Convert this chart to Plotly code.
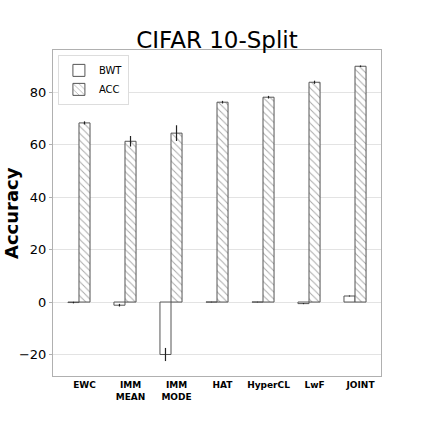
import plotly.graph_objects as go

methods = ["EWC", "IMM<br>MEAN", "IMM<br>MODE", "HAT", "HyperCL", "LwF", "JOINT"]
positions = [0, 1, 2, 3, 4, 5, 6]
bwt = [-0.2, -1.2, -20.0, 0.0, 0.0, -0.6, 2.3]
bwt_err = [0.3, 0.5, 2.5, 0.1, 0.1, 0.2, 0.2]
acc = [68.3, 61.3, 64.4, 76.2, 78.1, 83.8, 89.9]
acc_err = [0.6, 2.0, 3.0, 0.5, 0.5, 0.6, 0.3]

yticks = [-20, 0, 20, 40, 60, 80]

edge = "#555555"
err_style = dict(type="data", thickness=1.2, width=0, color="#222222")

fig = go.Figure()
fig.add_trace(go.Bar(
    x=positions, y=bwt, name="BWT", width=0.24, offset=-0.36,
    marker=dict(color="white", line=dict(color=edge, width=1)),
    error_y=dict(array=bwt_err, **err_style),
))
fig.add_trace(go.Bar(
    x=positions, y=acc, name="ACC", width=0.24, offset=-0.12,
    marker=dict(color="white", line=dict(color=edge, width=1),
                pattern=dict(shape="\\", size=5, solidity=0.2, fgcolor="#555555", bgcolor="white")),
    error_y=dict(array=acc_err, **err_style),
))

fig.update_layout(
    width=423, height=423,
    margin=dict(l=53, r=42, t=50, b=47),
    paper_bgcolor="white", plot_bgcolor="white",
    font=dict(family="DejaVu Sans", color="black"),
    title=dict(text="CIFAR 10-Split", x=0.513, xanchor="center", y=1 - 40 / 423,
               yanchor="middle", font=dict(size=23, family="DejaVu Sans", color="black")),
    showlegend=True,
    legend=dict(x=0.015, y=0.985, xanchor="left", yanchor="top",
                bgcolor="white", bordercolor="#dddddd", borderwidth=1,
                font=dict(size=10, family="DejaVu Sans", color="black"), itemwidth=30,
                tracegroupgap=0),
    barmode="overlay",
    xaxis=dict(range=[-0.685, 6.445], tickvals=positions, ticktext=methods,
               tickfont=dict(size=9, family="DejaVu Sans", weight="bold"),
               showgrid=False, zeroline=False, showline=True, linecolor="#b0b0b0",
               linewidth=1, mirror=True, ticks=""),
    yaxis=dict(range=[-28.2, 96.1], tickvals=yticks,
               ticktext=["−20", "0", "20", "40", "60", "80"],
               tickfont=dict(size=13, family="DejaVu Sans"),
               showgrid=True, gridcolor="#e3e3e3", gridwidth=1,
               zeroline=False, showline=True, linecolor="#b0b0b0",
               linewidth=1, mirror=True, ticks="outside", ticklen=3,
               tickcolor="#b0b0b0"),
    annotations=[dict(text="<b>Accuracy</b>", textangle=-90, xref="paper", yref="paper",
                      x=-0.128, y=0.5, xanchor="center", yanchor="middle",
                      showarrow=False, font=dict(size=18, family="DejaVu Sans"))],
)

fig.write_html("out.html", config={"displayModeBar": False},
               post_script="document.body.style.margin='0';document.body.style.padding='0';")
